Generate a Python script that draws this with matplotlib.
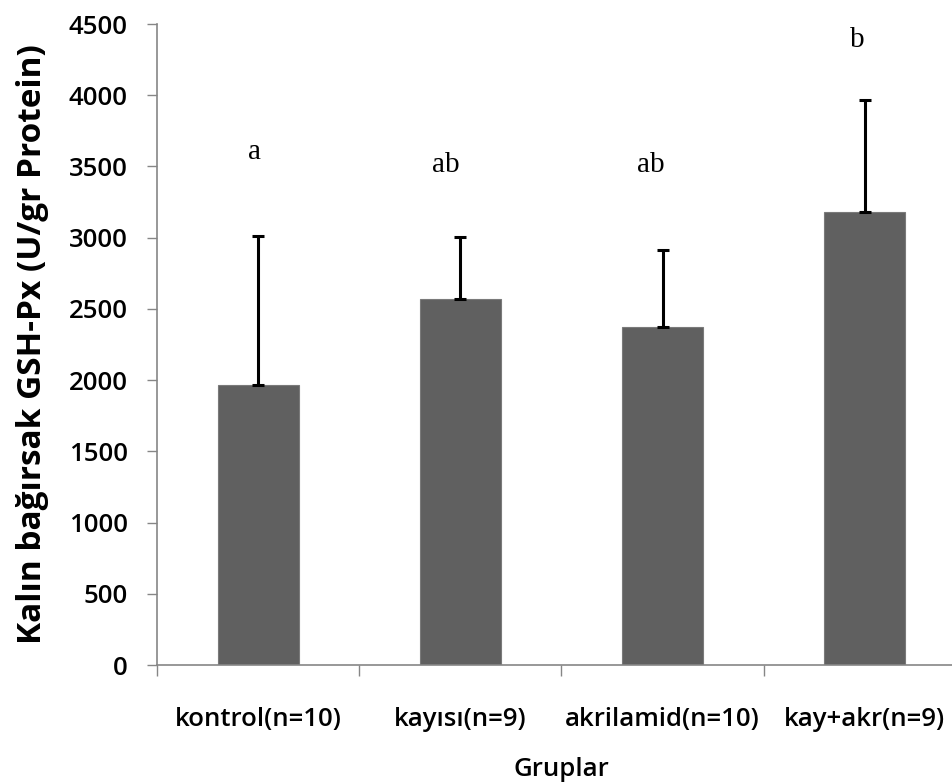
import matplotlib
matplotlib.use("Agg")
import matplotlib.pyplot as plt
import numpy as np

# veriler
gruplar = ['kontrol(n=10)', 'kayısı(n=9)', 'akrilamid(n=10)', 'kay+akr(n=9)']
ortalama = [1965, 2570, 2375, 3180]
std_hata = [1050, 435, 540, 790]
harfler = ['a', 'ab', 'ab', 'b']
harf_y = [3600, 3510, 3510, 4390]
harf_dx = [-0.02, -0.07, -0.06, -0.04]

plt.rcParams['font.family'] = ['Open Sans', 'DejaVu Sans']

fig = plt.figure(figsize=(9.52, 7.83), dpi=100)
ax = fig.add_axes([0.1649, 0.1507, 0.8498, 0.8186])

x = np.arange(len(gruplar))
ax.bar(x, ortalama, width=0.4, color='#606060', edgecolor='#7a7a7a', lw=0.8, zorder=2)
ax.errorbar(x, ortalama, yerr=[np.zeros(len(x)), std_hata], fmt='none',
            ecolor='black', elinewidth=2.2, capsize=4.5, capthick=2.2, zorder=3)

for xi, h, hy, dx in zip(x, harfler, harf_y, harf_dx):
    ax.text(xi + dx, hy, h, ha='center', va='center', fontsize=21,
            family='Liberation Serif')

ax.set_xlim(-0.5, 3.5)
ax.set_ylim(0, 4500)
ax.set_yticks(np.arange(0, 4501, 500))
ax.set_xticks(x)
ax.set_xticklabels(gruplar)
ax.set_xticks(np.arange(-0.5, 3.6, 1), minor=True)
ax.tick_params(axis='x', which='major', length=0, pad=30, labelsize=18.5)
ax.tick_params(axis='x', which='minor', length=8, width=1, color='#868686')
ax.tick_params(axis='y', length=7, width=1, color='#868686', labelsize=18.5, pad=14)
for lab in ax.get_xticklabels() + ax.get_yticklabels():
    lab.set_fontweight('semibold')

for s in ['top', 'right']:
    ax.spines[s].set_visible(False)
for s in ['left', 'bottom']:
    ax.spines[s].set_color('#868686')
    ax.spines[s].set_linewidth(1.2)

ax.set_xlabel('Gruplar', fontsize=18.5, fontweight='semibold', labelpad=18)
ax.set_ylabel('Kalın bağırsak GSH-Px (U/gr Protein)', fontsize=24,
              fontweight='bold', labelpad=14)

fig.savefig('out.png', dpi=100)
